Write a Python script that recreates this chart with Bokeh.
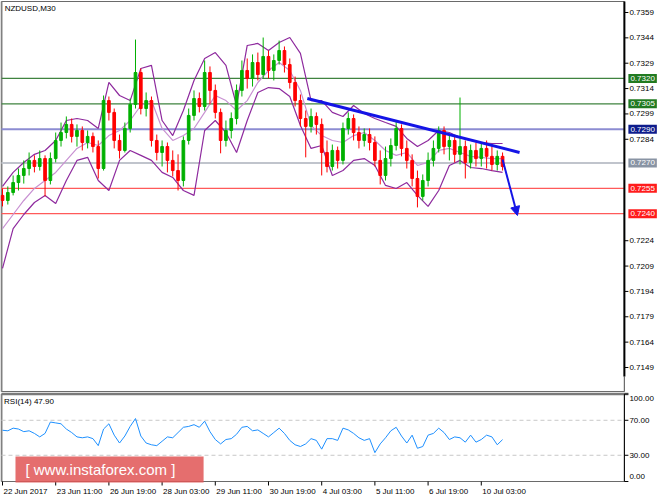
from bokeh.plotting import figure
from bokeh.models import (Range1d, Label, Arrow, NormalHead, BoxAnnotation, ColumnDataSource)
from bokeh.core.properties import value
from bokeh.embed import file_html
from bokeh.resources import INLINE

FONT = "Liberation Sans"

# ---------------- data ----------------
symbol_title = "NZDUSD,M30"
rsi_title = "RSI(14) 47.90"

open_ = [0.72508,0.72478,0.72525,0.72584,0.72626,0.72667,0.72715,0.72679,0.72726,0.72596,
         0.72726,0.72833,0.72880,0.72928,0.72857,0.72892,0.72821,0.72857,0.72797,0.72667,
         0.73069,0.72999,0.72833,0.72774,0.72904,0.73046,0.73235,0.73022,0.73069,0.72833,
         0.72762,0.72797,0.72715,0.72655,0.72596,0.72833,0.72981,0.73081,0.73034,0.73235,
         0.73129,0.72999,0.72833,0.72892,0.72963,0.73129,0.73247,0.73200,0.73294,0.73223,
         0.73330,0.73247,0.73306,0.73365,0.73282,0.73176,0.73069,0.72963,0.72916,0.72975,
         0.72928,0.72762,0.72679,0.72774,0.72715,0.72904,0.72963,0.72880,0.72833,0.72868,
         0.72821,0.72715,0.72626,0.72726,0.72803,0.72904,0.72786,0.72715,0.72608,0.72502,
         0.72596,0.72715,0.72786,0.72892,0.72797,0.72833,0.72751,0.72797,0.72703,0.72774,
         0.72726,0.72786,0.72739,0.72691,0.72739]
high_ = [0.72549,0.72561,0.72626,0.72667,0.72715,0.72762,0.72745,0.72774,0.72745,0.72762,
         0.72880,0.72939,0.72975,0.72963,0.72928,0.72916,0.72892,0.72880,0.72833,0.73099,
         0.73093,0.73022,0.72868,0.72939,0.73081,0.73430,0.73259,0.73117,0.73093,0.72868,
         0.72833,0.72821,0.72774,0.72751,0.72857,0.73022,0.73129,0.73117,0.73306,0.73271,
         0.73164,0.73022,0.72951,0.72999,0.73164,0.73306,0.73318,0.73342,0.73353,0.73442,
         0.73365,0.73342,0.73424,0.73389,0.73318,0.73211,0.73105,0.73010,0.73022,0.72999,
         0.72963,0.72833,0.72809,0.72797,0.72939,0.72999,0.72987,0.72916,0.72904,0.72904,
         0.72857,0.72774,0.72797,0.72845,0.72951,0.72928,0.72833,0.72751,0.72655,0.72632,
         0.72762,0.72833,0.72916,0.72916,0.72868,0.72857,0.73087,0.72833,0.72809,0.72821,
         0.72821,0.72833,0.72809,0.72774,0.72762]
low_ = [0.72443,0.72454,0.72508,0.72537,0.72578,0.72626,0.72644,0.72655,0.72502,0.72573,
        0.72703,0.72797,0.72845,0.72821,0.72797,0.72774,0.72786,0.72762,0.72608,0.72655,
        0.72951,0.72786,0.72726,0.72762,0.72880,0.73022,0.72987,0.72975,0.72797,0.72715,
        0.72679,0.72644,0.72620,0.72537,0.72561,0.72809,0.72951,0.72999,0.73010,0.73046,
        0.72963,0.72757,0.72797,0.72845,0.72928,0.73093,0.73140,0.73152,0.73188,0.73200,
        0.73200,0.73188,0.73282,0.73235,0.73140,0.73034,0.72916,0.72733,0.72880,0.72868,
        0.72626,0.72644,0.72655,0.72667,0.72691,0.72868,0.72833,0.72786,0.72797,0.72774,
        0.72679,0.72573,0.72596,0.72679,0.72774,0.72739,0.72667,0.72561,0.72437,0.72478,
        0.72561,0.72679,0.72762,0.72751,0.72715,0.72703,0.72691,0.72608,0.72667,0.72679,
        0.72679,0.72667,0.72655,0.72655,0.72655]
close_ = [0.72478,0.72525,0.72584,0.72626,0.72667,0.72715,0.72679,0.72726,0.72596,0.72726,
          0.72833,0.72880,0.72928,0.72857,0.72892,0.72821,0.72857,0.72797,0.72667,0.73069,
          0.72999,0.72833,0.72774,0.72904,0.73046,0.73235,0.73022,0.73069,0.72833,0.72762,
          0.72797,0.72715,0.72655,0.72596,0.72833,0.72981,0.73081,0.73034,0.73235,0.73129,
          0.72999,0.72833,0.72892,0.72963,0.73129,0.73247,0.73200,0.73294,0.73223,0.73330,
          0.73247,0.73306,0.73365,0.73282,0.73176,0.73069,0.72963,0.72916,0.72975,0.72928,
          0.72762,0.72679,0.72774,0.72715,0.72904,0.72963,0.72880,0.72833,0.72868,0.72821,
          0.72715,0.72626,0.72726,0.72803,0.72904,0.72786,0.72715,0.72608,0.72502,0.72596,
          0.72715,0.72786,0.72892,0.72797,0.72833,0.72751,0.72797,0.72703,0.72774,0.72726,
          0.72786,0.72739,0.72691,0.72739,0.72679]

# Bollinger bands, sampled every second bar
bb_upper = [0.72561,0.72644,0.72703,0.72751,0.72774,0.72833,0.72951,0.72963,0.72951,0.72904,
            0.73176,0.73099,0.73069,0.73259,0.73277,0.72951,0.72862,0.73010,0.73188,0.73318,
            0.73353,0.73277,0.73040,0.73395,0.73407,0.73365,0.73413,0.73442,0.73348,0.73069,
            0.73069,0.72999,0.72975,0.73040,0.72993,0.72963,0.72939,0.72916,0.72845,0.72797,
            0.72833,0.72892,0.72880,0.72851,0.72833,0.72821,0.72815,0.72815]
bb_middle = [0.72312,0.72395,0.72478,0.72549,0.72596,0.72644,0.72715,0.72786,0.72821,0.72803,
             0.72862,0.72892,0.72951,0.73040,0.73069,0.72904,0.72833,0.72862,0.72904,0.72999,
             0.73099,0.73069,0.73010,0.73069,0.73176,0.73247,0.73294,0.73247,0.73129,0.72922,
             0.72862,0.72833,0.72821,0.72862,0.72880,0.72833,0.72774,0.72745,0.72762,0.72685,
             0.72703,0.72774,0.72786,0.72762,0.72739,0.72733,0.72726,0.72726]
bb_lower = [0.72076,0.72312,0.72395,0.72466,0.72508,0.72460,0.72596,0.72715,0.72733,0.72596,
            0.72537,0.72715,0.72774,0.72745,0.72715,0.72644,0.72614,0.72537,0.72508,0.72892,
            0.72951,0.72880,0.72762,0.72951,0.73117,0.73146,0.73140,0.73093,0.72922,0.72786,
            0.72803,0.72626,0.72655,0.72715,0.72726,0.72685,0.72567,0.72549,0.72584,0.72508,
            0.72443,0.72537,0.72685,0.72715,0.72673,0.72667,0.72655,0.72644]

rsi = [58.6,58,61,60,57,58,55,51,55,68,
       67,66,60,56,51,50,51,49,41,60,
       66,53,44,52,63,72,52,44,42,41,
       46,51,50,56,62,63,65,62,69,57,
       48,43,48,49,54,62,63,58,59,55,
       51,56,61,55,47,42,40,43,49,47,
       37,49,49,47,61,59,55,50,47,49,
       33,43,50,58,62,52,44,53,38,40,
       53,55,61,56,48,51,50,45,53,45,
       48,53,51,42,47.9]

time_labels = ["22 Jun 2017", "23 Jun 11:00", "26 Jun 19:00", "28 Jun 03:00", "29 Jun 11:00",
               "30 Jun 19:00", "4 Jul 03:00", "5 Jul 11:00", "6 Jul 19:00", "10 Jul 03:00"]
time_label_bars = [0, 10, 20, 30, 40, 50, 60, 70, 80, 90]

price_ticks = [0.7149, 0.7164, 0.7179, 0.7194, 0.7209, 0.7224, 0.7284, 0.7299,
               0.7314, 0.7329, 0.7344, 0.7359]
levels = [0.7320, 0.7305, 0.7290, 0.7270, 0.7255, 0.7240]
level_line_colors = ["#3f833f", "#3f833f", "#8c8cd2", "#c0c4cc", "#ff5a5a", "#ff5a5a"]
level_line_widths = [1.2, 1.2, 2, 2, 1.3, 1.3]
level_box_colors = ["#217a21", "#217a21", "#0e1c8c", "#8994a4", "#ff1c1c", "#ff1c1c"]

trend_x = [57.3, 97.2]
trend_y = [0.73081, 0.72762]
arrow_start = (94.0, 0.72721)
arrow_end = (96.8, 0.72389)

rsi_ticks = [0, 30, 70, 100]
rsi_levels = [30, 70]

# ---------------- layout constants (screen geometry) ----------------
X_LEFT = -0.19        # left border of both panels
X_AXIS = 116.9        # right axis line
PX_X = 5.32           # pixels per bar
P_TOP, P_BOT = 0.73655, 0.71348   # main panel frame (price units)
P_AXIS_BOT = 0.71437
PX_RSI = 0.875        # pixels per RSI unit

n = len(close_)
xs = list(range(n))

p = figure(width=664, height=498, output_backend="svg", toolbar_location=None,
           x_range=Range1d(-0.376, 124.44), y_range=Range1d(0.70715, 0.73661),
           x_axis_location=None, y_axis_location=None,
           min_border_left=0, min_border_right=0, min_border_top=0, min_border_bottom=0)
p.extra_y_ranges = {"rsi": Range1d(-19.43, 550)}
p.grid.visible = False
p.outline_line_color = None
p.background_fill_color = "white"
p.border_fill_color = "white"

txt = dict(text_font=value(FONT), text_font_size=value("8px"), text_color="black")

# ---- main panel frame ----
p.quad(left=[X_LEFT], right=[X_AXIS], top=[P_TOP], bottom=[P_BOT],
       fill_color=None, line_color="#6a6a6a", line_width=1)
p.segment(x0=[X_LEFT], y0=[P_TOP], x1=[X_LEFT], y1=[P_BOT], line_color="#808080", line_width=2)

# level lines
for lv, lc, lw in zip(levels, level_line_colors, level_line_widths):
    p.segment(x0=[X_LEFT], y0=[lv], x1=[X_AXIS], y1=[lv], line_color=lc, line_width=lw)

# Bollinger bands
bx = xs[::2]
p.line(bx, bb_middle, line_color="#c891d2", line_width=1.2)
p.line(bx, bb_upper, line_color="#8e2a9e", line_width=1.2)
p.line(bx, bb_lower, line_color="#8e2a9e", line_width=1.2)

# candles
cols = ["#00b000" if c >= o else "#ff0000" for o, c in zip(open_, close_)]
src = ColumnDataSource(dict(x=xs, h=high_, l=low_, col=cols,
                            top=[max(a, b) for a, b in zip(open_, close_)],
                            bot=[min(a, b) for a, b in zip(open_, close_)]))
p.segment(x0="x", y0="h", x1="x", y1="l", line_color="col", line_width=1, source=src)
p.vbar(x="x", width=0.5, top="top", bottom="bot", fill_color="col", line_color="col", source=src)

# trend line + arrow
blue = "#1414e6"
p.line(trend_x, trend_y, line_color=blue, line_width=3)
p.add_layout(Arrow(end=NormalHead(size=9, fill_color=blue, line_color=blue),
                   x_start=arrow_start[0], y_start=arrow_start[1],
                   x_end=arrow_end[0], y_end=arrow_end[1],
                   line_color=blue, line_width=2))

# right price axis
p.segment(x0=[X_AXIS], y0=[P_TOP], x1=[X_AXIS], y1=[P_AXIS_BOT], line_color="black", line_width=2)
p.segment(x0=[X_AXIS], y0=[P_AXIS_BOT], x1=[X_AXIS], y1=[P_BOT], line_color="#6a6a6a", line_width=1)
p.segment(x0=[X_AXIS] * len(price_ticks), y0=price_ticks,
          x1=[X_AXIS + 4 / PX_X] * len(price_ticks), y1=price_ticks, line_color="black", line_width=1)
p.text(x=[X_AXIS + 5 / PX_X] * len(price_ticks), y=price_ticks,
       text=[f"{t:.4f}" for t in price_ticks], text_baseline="middle", text_align="left", **txt)

for lv, bc in zip(levels, level_box_colors):
    p.add_layout(Label(x=X_AXIS + 4 / PX_X, y=lv, text=f"{lv:.4f}", text_font=FONT,
                       text_font_size="8px", text_color="white", text_baseline="middle",
                       text_align="left", background_fill_color=bc, padding=2))

p.add_layout(Label(x=0.4, y=0.73643, text=symbol_title, text_font=FONT, text_font_size="8px",
                   text_color="black", text_baseline="top"))

# ---- RSI panel ----
p.quad(left=[X_LEFT], right=[X_AXIS], top=[100], bottom=[0], fill_color=None,
       line_color="#6a6a6a", line_width=1, y_range_name="rsi")
p.segment(x0=[X_LEFT], y0=[0], x1=[X_LEFT], y1=[100], line_color="#808080", line_width=2,
          y_range_name="rsi")
p.segment(x0=[X_LEFT], y0=[100], x1=[X_AXIS + 4 / PX_X], y1=[100], line_color="#7a7a7a",
          line_width=2.5, y_range_name="rsi")
for lv in rsi_levels:
    p.segment(x0=[X_LEFT], y0=[lv], x1=[X_AXIS], y1=[lv], line_color="#c8c8c8", line_width=1,
              line_dash="4 3", y_range_name="rsi")
p.line(xs, rsi, line_color="#1e90ff", line_width=1, y_range_name="rsi")

p.segment(x0=[X_AXIS], y0=[0], x1=[X_AXIS], y1=[100], line_color="black", line_width=1,
          y_range_name="rsi")
p.segment(x0=[X_AXIS] * 4, y0=rsi_ticks, x1=[X_AXIS + 4 / PX_X] * 4, y1=rsi_ticks,
          line_color="black", line_width=1, y_range_name="rsi")
p.text(x=[X_AXIS + 5 / PX_X] * 4, y=rsi_ticks, text=[f"{t:.2f}" for t in rsi_ticks],
       text_baseline="middle", text_align="left", y_offset=[-5, 0, 0, 4],
       y_range_name="rsi", **txt)

p.add_layout(Label(x=0.3, y=96.5, text=rsi_title, text_font=FONT, text_font_size="8px",
                   text_color="black", text_baseline="top", y_range_name="rsi"))

# time axis (below RSI panel)
p.segment(x0=time_label_bars, y0=[0] * len(time_label_bars), x1=time_label_bars,
          y1=[-4 / PX_RSI] * len(time_label_bars), line_color="black", line_width=1,
          y_range_name="rsi")
p.text(x=[b + 1 / PX_X for b in time_label_bars], y=[-5 / PX_RSI] * len(time_label_bars),
       text=time_labels, text_baseline="top", text_align="left", y_range_name="rsi", **txt)

# watermark
p.add_layout(BoxAnnotation(left=2.44, right=37.8, bottom=-1.1, top=28.6, y_range_name="rsi",
                           fill_color="#e05555", fill_alpha=0.85, line_color=None))
p.add_layout(Label(x=4.3, y=13.7, text="[  www.instaforex.com ]", text_font=FONT,
                   text_font_size="15px", text_color="white", text_baseline="middle",
                   y_range_name="rsi"))

open("out.html", "w").write(file_html(p, INLINE))
